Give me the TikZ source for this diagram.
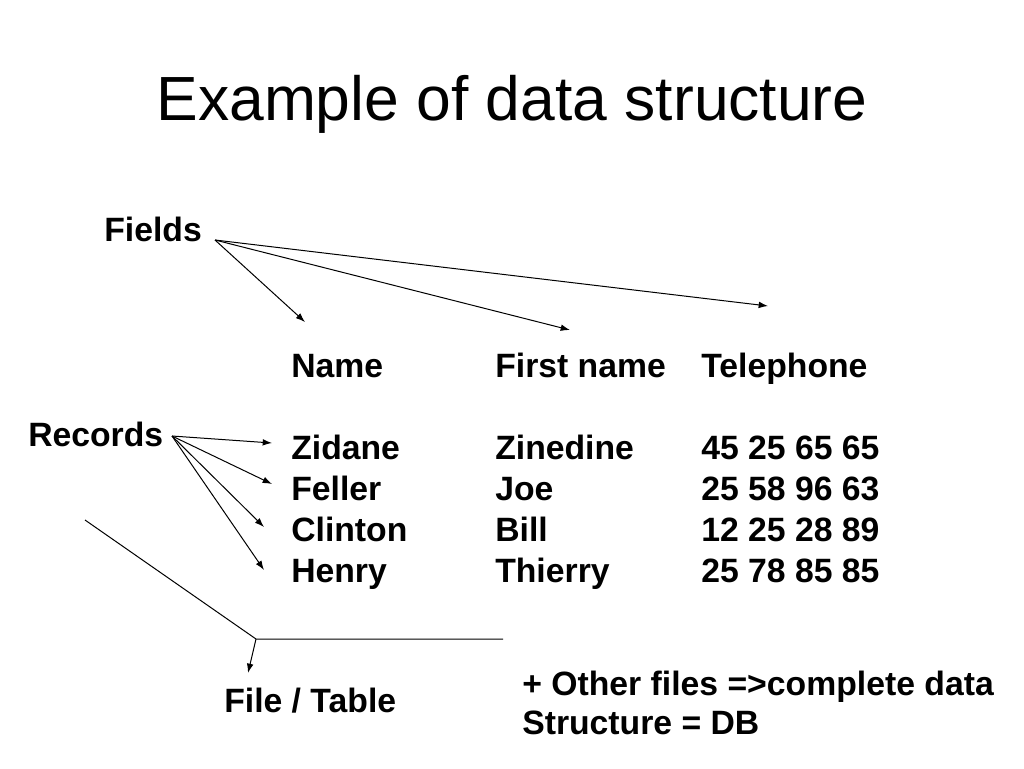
\documentclass[tikz,border=0pt]{standalone}
\usepackage{fontspec}
\setmainfont{Liberation Sans}
\usetikzlibrary{arrows.meta}
\tikzset{
  txt/.style={anchor=base west,inner sep=0pt,font=\fontsize{25.3}{30}\selectfont\bfseries},
  arr/.style={-{Latex[length=7pt,width=5pt]},line width=0.75pt}
}
\begin{document}
\begin{tikzpicture}[x=0.75pt,y=-0.75pt]
    \useasboundingbox (0,0) rectangle (1024,768);
    \node[anchor=base,inner sep=0pt,font=\fontsize{46.8}{50}\selectfont] (title) at (512,120) {Example of data structure};
    \node[txt] (fields) at (104,241) {Fields};
    \node[txt] (records) at (28,446) {Records};
    \node[txt] (name) at (291,377) {Name};
    \node[txt] (first) at (495,377) {First name};
    \node[txt] (tel) at (701,377) {Telephone};
    \node[txt] (n1) at (291,459) {Zidane};
    \node[txt] (f1) at (495,459) {Zinedine};
    \node[txt] (t1) at (701,459) {45 25 65 65};
    \node[txt] (n2) at (291,500) {Feller};
    \node[txt] (f2) at (495,500) {Joe};
    \node[txt] (t2) at (701,500) {25 58 96 63};
    \node[txt] (n3) at (291,541) {Clinton};
    \node[txt] (f3) at (495,541) {Bill};
    \node[txt] (t3) at (701,541) {12 25 28 89};
    \node[txt] (n4) at (291,582) {Henry};
    \node[txt] (f4) at (495,582) {Thierry};
    \node[txt] (t4) at (701,582) {25 78 85 85};
    \node[txt] (file) at (224,712) {File / Table};
    \node[txt] (other) at (522,695) {+ Other files =>complete data};
    \node[txt] (db) at (522,734) {Structure = DB};
    % fields arrows
    \coordinate (fo) at (215,240);
    \coordinate (fa) at (305,322);
    \coordinate (fb) at (570,330);
    \coordinate (fc) at (768,306);
    \draw[arr] (fo)--(fa);
    \draw[arr] (fo)--(fb);
    \draw[arr] (fo)--(fc);
    % records arrows
    \coordinate (ro) at (172,436);
    \coordinate (ra) at (272,443);
    \coordinate (rb) at (272,484);
    \coordinate (rc) at (264,527);
    \coordinate (rd) at (264,570);
    \foreach \e in {ra,rb,rc,rd}
      \draw[arr] (ro)--(\e);
    % file / table
    \coordinate (la) at (85,520);
    \coordinate (lb) at (256,639);
    \coordinate (lc) at (503,639);
    \coordinate (ld) at (248,673);
    \draw[line width=0.75pt] (la)--(lb)--(lc);
    \draw[arr] (lb)--(ld);
  \end{tikzpicture}
\end{document}
